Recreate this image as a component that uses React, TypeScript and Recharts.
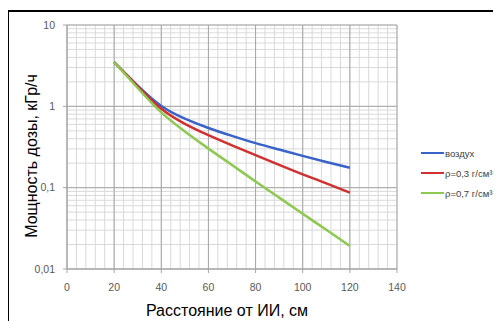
import React from 'react';
import { LineChart, Line, XAxis, YAxis, CartesianGrid, ReferenceLine } from 'recharts';

// distance from the source, cm
const distance = [20, 30, 40, 50, 60, 70, 80, 90, 100, 110, 120];
// dose rate, kGy/h
const air = [3.5, 1.795, 1.01, 0.706, 0.542, 0.433, 0.353, 0.294, 0.246, 0.207, 0.176];
const rho03 = [3.5, 1.76, 0.933, 0.61, 0.442, 0.331, 0.251, 0.191, 0.146, 0.113, 0.087];
const rho07 = [3.5, 1.68, 0.841, 0.49, 0.302, 0.19, 0.119, 0.0755, 0.0479, 0.0303, 0.0192];

const seriesNames = ['воздух', 'ρ=0,3 г/см³', 'ρ=0,7 г/см³'];
const seriesColors = ['#3a62c8', '#d03030', '#8dc850'];
const seriesKeys = ['air', 'rho03', 'rho07'];

const xMajorTicks = [0, 20, 40, 60, 80, 100, 120, 140];
const yMajorTicks = [0.01, 0.1, 1, 10];
const yTickLabels = ['0,01', '0,1', '1', '10'];

const xGridTicks = Array.from({ length: 36 }, (_, i) => i * 4);
const yGridTicks = yMajorTicks
  .slice(0, -1)
  .flatMap((d) => [1, 2, 3, 4, 5, 6, 7, 8, 9].map((m) => +(d * m).toPrecision(3)))
  .concat([10]);

const data = distance.map((x, i) => ({ x, air: air[i], rho03: rho03[i], rho07: rho07[i] }));

const tickFont = 'Liberation Sans, Arial, sans-serif';
const majorGrid = '#a6a6a6';

const XTick = (props: any) => {
  const { x, y, payload } = props;
  if (!xMajorTicks.includes(payload.value)) return <g />;
  return (
    <g>
      <line x1={x} x2={x} y1={y - 8} y2={y - 4} stroke={majorGrid} />
      <text x={x} y={y + 14} textAnchor="middle" fontSize={10.5} fill="#595959" fontFamily={tickFont}>
        {payload.value}
      </text>
    </g>
  );
};

const YTick = (props: any) => {
  const { x, y, payload } = props;
  const idx = yMajorTicks.indexOf(payload.value);
  if (idx < 0) return <g />;
  return (
    <g>
      <line x1={x + 4} x2={x + 8} y1={y} y2={y} stroke={majorGrid} />
      <text x={x - 4} y={y + 3.5} textAnchor="end" fontSize={10.5} fill="#595959" fontFamily={tickFont}>
        {yTickLabels[idx]}
      </text>
    </g>
  );
};

const App = () => {
  return (
    <div style={{ position: 'relative', width: 501, height: 321, margin: '-8px -8px 0 -8px', overflow: 'hidden' }}>
      <div
        style={{
          position: 'absolute',
          left: 7,
          top: 10,
          width: 494,
          height: 311,
          boxSizing: 'border-box',
          borderTop: '2px solid #000',
          borderLeft: '2px solid #000',
        }}
      />
      <div style={{ position: 'absolute', left: 0, top: 0 }}>
        <LineChart width={501} height={321} data={data} margin={{ top: 25, right: 104, bottom: 0, left: 0 }}>
          <CartesianGrid stroke="#d9d9d9" />
          <XAxis
            dataKey="x"
            type="number"
            domain={[0, 140]}
            ticks={xGridTicks}
            interval={0}
            height={52}
            tickLine={false}
            axisLine={{ stroke: majorGrid }}
            tick={XTick}
          />
          <YAxis
            scale="log"
            domain={[0.01, 10]}
            allowDataOverflow
            ticks={yGridTicks}
            interval={0}
            width={67}
            tickLine={false}
            axisLine={{ stroke: majorGrid }}
            tick={YTick}
          />
          {xMajorTicks.map((v) => (
            <ReferenceLine key={'x' + v} x={v} stroke={majorGrid} />
          ))}
          {yMajorTicks.map((v) => (
            <ReferenceLine key={'y' + v} y={v} stroke={majorGrid} />
          ))}
          {seriesKeys.map((k, i) => (
            <Line
              key={k}
              type="natural"
              dataKey={k}
              name={seriesNames[i]}
              stroke={seriesColors[i]}
              strokeWidth={2.5}
              dot={false}
              activeDot={false}
              isAnimationActive={false}
            />
          ))}
        </LineChart>
      </div>
      <div
        style={{
          position: 'absolute',
          left: 227,
          top: 302,
          transform: 'translateX(-50%)',
          fontFamily: tickFont,
          fontSize: 16,
          lineHeight: '18px',
          whiteSpace: 'nowrap',
        }}
      >
        Расстояние от ИИ, см
      </div>
      <div
        style={{
          position: 'absolute',
          left: 32,
          top: 156,
          transform: 'translate(-50%, -50%) rotate(-90deg)',
          fontFamily: tickFont,
          fontSize: 16,
          whiteSpace: 'nowrap',
        }}
      >
        Мощность дозы, кГр/ч
      </div>
      {seriesNames.map((name, i) => (
        <div
          key={name}
          style={{
            position: 'absolute',
            left: 421,
            top: 146 + i * 20,
            height: 14,
            display: 'flex',
            alignItems: 'center',
            fontFamily: tickFont,
            fontSize: 9.5,
            color: '#404040',
            whiteSpace: 'nowrap',
          }}
        >
          <span style={{ display: 'inline-block', width: 23, height: 2.5, background: seriesColors[i], marginRight: 1 }} />
          {name}
        </div>
      ))}
    </div>
  );
};

export default App;
